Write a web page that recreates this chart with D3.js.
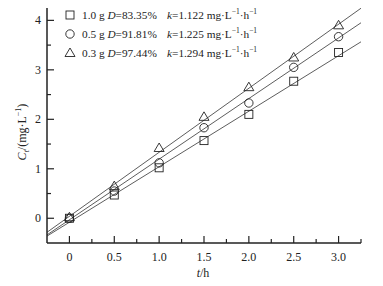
<!DOCTYPE html>
<html>
<head>
<meta charset="utf-8">
<script src="https://cdn.jsdelivr.net/npm/d3@7"></script>
<style>
  body { margin: 0; background: #fff; }
  svg text { font-family: "Liberation Serif", "Times New Roman", serif; fill: #222; }
</style>
</head>
<body>
<svg id="chart" width="383" height="286"></svg>
<script>
// sampling times (h)
const times = [0, 0.5, 1.0, 1.5, 2.0, 2.5, 3.0];

// measured concentrations C_t (mg/L) for each dosage
const seriesNames = ['1.0 g', '0.5 g', '0.3 g'];
const seriesD = ['83.35%', '91.81%', '97.44%'];
const seriesK = ['1.122', '1.225', '1.294'];
const valuesSquare = [0.0, 0.47, 1.02, 1.57, 2.10, 2.77, 3.35];
const valuesCircle = [0.0, 0.55, 1.12, 1.83, 2.33, 3.05, 3.67];
const valuesTriangle = [0.02, 0.65, 1.42, 2.05, 2.65, 3.25, 3.90];

// fitted lines (slope, intercept)
const fitSlopes = [1.122, 1.225, 1.294];
const fitIntercepts = [-0.08, -0.03, 0.04];

const xTicks = [0, 0.5, 1.0, 1.5, 2.0, 2.5, 3.0];
const yTicks = [0, 1, 2, 3, 4];

const svg = d3.select('#chart');
const margin = {left: 47, right: 22, top: 8, bottom: 43};
const width = 383 - margin.left - margin.right;
const height = 286 - margin.top - margin.bottom;

const x = d3.scaleLinear().domain([-0.25, 3.25]).range([margin.left, margin.left + width]);
const y = d3.scaleLinear().domain([-0.5, 4.25]).range([margin.top + height, margin.top]);

const g = svg.append('g');

// fitted lines
const xDomain = x.domain();
fitSlopes.forEach((k, i) => {
  const b = fitIntercepts[i];
  g.append('line')
    .attr('x1', x(xDomain[0])).attr('y1', y(k * xDomain[0] + b))
    .attr('x2', x(xDomain[1])).attr('y2', y(k * xDomain[1] + b))
    .attr('stroke', '#333').attr('stroke-width', 0.8);
});

// markers
const markerStyle = sel => sel.attr('fill', 'none').attr('stroke', '#222').attr('stroke-width', 0.9);
const drawMarker = (sel, type, cx, cy) => {
  if (type === 0) {
    sel.append('rect').attr('x', cx - 4).attr('y', cy - 4).attr('width', 8).attr('height', 8).call(markerStyle);
  } else if (type === 1) {
    sel.append('circle').attr('cx', cx).attr('cy', cy).attr('r', 4.2).call(markerStyle);
  } else {
    sel.append('path').attr('d', `M${cx},${cy - 5}L${cx + 5},${cy + 3.5}L${cx - 5},${cy + 3.5}Z`).call(markerStyle);
  }
};

[valuesSquare, valuesCircle, valuesTriangle].forEach((vals, i) => {
  vals.forEach((v, j) => drawMarker(g, i, x(times[j]), y(v)));
});

// axes
const xAxis = g.append('g').attr('transform', `translate(0,${margin.top + height})`);
xAxis.append('line').attr('x1', margin.left).attr('x2', margin.left + width)
  .attr('stroke', '#222').attr('stroke-width', 1.5);
d3.range(-0.25, 3.26, 0.25).forEach(t => {
  const major = Math.abs(t * 2 - Math.round(t * 2)) < 1e-6;
  if (t < -0.2) return;
  xAxis.append('line').attr('x1', x(t)).attr('x2', x(t)).attr('y1', 0).attr('y2', major ? -7 : -4)
    .attr('stroke', '#222').attr('stroke-width', 1.2);
});
xAxis.selectAll('text.tick').data(xTicks).join('text')
  .attr('x', d => x(d)).attr('y', 18).attr('text-anchor', 'middle').attr('font-size', 12)
  .text(d => d === 0 ? '0' : d3.format('.1f')(d));

const yAxis = g.append('g').attr('transform', `translate(${margin.left},0)`);
yAxis.append('line').attr('y1', margin.top).attr('y2', margin.top + height)
  .attr('stroke', '#222').attr('stroke-width', 1.5);
d3.range(-0.5, 4.26, 0.5).forEach(v => {
  const major = Math.abs(v - Math.round(v)) < 1e-6;
  if (v < -0.4) return;
  yAxis.append('line').attr('y1', y(v)).attr('y2', y(v)).attr('x1', 0).attr('x2', major ? 7 : 4)
    .attr('stroke', '#222').attr('stroke-width', 1.2);
});
yAxis.selectAll('text.tick').data(yTicks).join('text')
  .attr('x', -6).attr('y', d => y(d) + 4).attr('text-anchor', 'end').attr('font-size', 12)
  .text(d => d);

// axis titles
const xt = svg.append('text').attr('x', 203).attr('y', 277).attr('text-anchor', 'middle').attr('font-size', 12);
xt.append('tspan').attr('font-style', 'italic').text('t');
xt.append('tspan').text('/h');

const yt = svg.append('text').attr('transform', 'translate(26,132) rotate(-90)')
  .attr('text-anchor', 'middle').attr('font-size', 12);
yt.append('tspan').attr('font-style', 'italic').text('C');
yt.append('tspan').attr('font-style', 'italic').attr('font-size', 8).attr('dy', 3).text('t');
yt.append('tspan').attr('dy', -3).text('/(mg·L');
yt.append('tspan').attr('font-size', 8).attr('dy', -5).text('−1');
yt.append('tspan').attr('dy', 5).text(')');

// legend
const legendY = [15, 34, 53];
seriesNames.forEach((name, i) => {
  const ly = legendY[i];
  drawMarker(svg, i, 70, ly);
  const t = svg.append('text').attr('x', 82).attr('y', ly + 4).attr('font-size', 11.3);
  t.append('tspan').text(name + ' ');
  t.append('tspan').attr('font-style', 'italic').text('D');
  t.append('tspan').text('=' + seriesD[i]);
  const t2 = svg.append('text').attr('x', 167).attr('y', ly + 4).attr('font-size', 11.3);
  t2.append('tspan').attr('font-style', 'italic').text('k');
  t2.append('tspan').text('=' + seriesK[i] + ' mg·L');
  t2.append('tspan').attr('font-size', 7.5).attr('dy', -5).text('−1');
  t2.append('tspan').attr('dy', 5).text('·h');
  t2.append('tspan').attr('font-size', 7.5).attr('dy', -5).text('−1');
});
</script>
</body>
</html>
